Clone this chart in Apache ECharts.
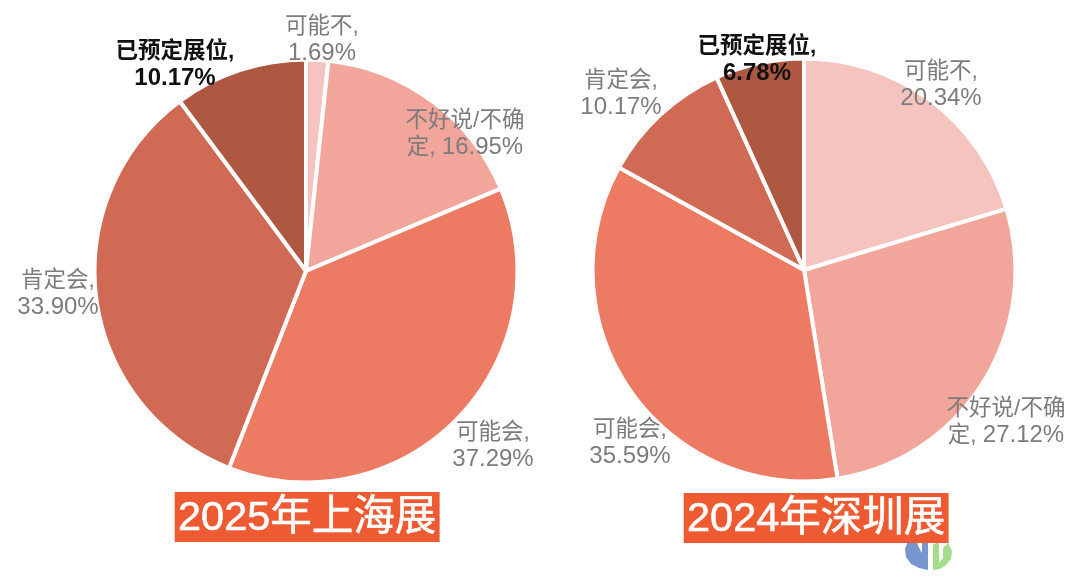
<!DOCTYPE html>
<html>
<head>
<meta charset="UTF-8">
<title>展会参展意向</title>
<script src="https://cdn.jsdelivr.net/npm/echarts@6/dist/echarts.min.js"></script>
<style>
html,body{margin:0;background:#fff;}
#chart{width:1080px;height:577px;}
</style>
</head>
<body>
<div id="chart"></div>
<script>

const colors = {
 "可能不":"#f5c4bf",
 "不好说/不确定":"#f2a59a",
 "可能会":"#ed7a62",
 "肯定会":"#d06a54",
 "已预定展位":"#ae5842"
}

// x,y = label centre in the picture, {n|} = the wider figures
const shows = [
 {
  title:"2025年上海展",
  center:[306,271],
  titleLeft:175,
  titleTop:492,
  rows:[
   {name:"可能不",value:1.69,text:"可能不,\n{n|1.69%}",x:322,y:40},
   {name:"不好说/不确定",value:16.95,text:"不好说/不确\n定, {n|16.95%}",x:465,y:134},
   {name:"可能会",value:37.29,text:"可能会,\n{n|37.29%}",x:493,y:446},
   {name:"肯定会",value:33.90,text:"肯定会,\n{n|33.90%}",x:58,y:294},
   {name:"已预定展位",value:10.17,text:"已预定展位,\n{n|10.17%}",x:175,y:65,bold:true}
  ]
 },
 {
  title:"2024年深圳展",
  center:[804,270],
  titleLeft:684,
  titleTop:493,
  rows:[
   {name:"可能不",value:20.34,text:"可能不,\n{n|20.34%}",x:941,y:85},
   {name:"不好说/不确定",value:27.12,text:"不好说/不确\n定, {n|27.12%}",x:1006,y:422},
   {name:"可能会",value:35.59,text:"可能会,\n{n|35.59%}",x:630,y:443},
   {name:"肯定会",value:10.17,text:"肯定会,\n{n|10.17%}",x:621,y:94},
   {name:"已预定展位",value:6.78,text:"已预定展位,\n{n|6.78%}",x:757,y:60,bold:true}
  ]
 }
]

const chart = echarts.init(document.getElementById("chart"),null,{renderer:"canvas"})

const font = '"Liberation Sans","Noto Sans CJK SC",sans-serif'

chart.setOption({
 animation:false,
 backgroundColor:"#fff",
 title:shows.map(s=>({
  z:1,
  text:s.title,
  left:s.titleLeft,
  top:s.titleTop,
  padding:[3,3,0,3],
  backgroundColor:"#ee5a32",
  textStyle:{
   color:"#fff",
   fontFamily:font,
   fontSize:41.5,
   fontWeight:"normal",
   lineHeight:47,
   textBorderColor:"#fff",
   textBorderWidth:0.6
  }
 })),
 series:shows.map(s=>({
  type:"pie",
  center:s.center,
  radius:[0,211.5],
  startAngle:90,
  clockwise:true,
  silent:true,
  labelLine:{show:false},
  itemStyle:{borderColor:"#fff",borderWidth:4},
  labelLayout:p=>{
   const r = s.rows[p.dataIndex]
   return {x:r.x,y:r.y,align:"center",verticalAlign:"middle",hideOverlap:false}
  },
  data:s.rows.map(r=>{
   const color = r.bold?"#111":"#7c7c7c"
   const fontWeight = r.bold?"bold":"normal"
   return {
    name:r.name,
    value:r.value,
    itemStyle:{color:colors[r.name]},
    label:{
     show:true,
     position:"inside",
     overflow:"none",
     formatter:r.text,
     fontFamily:font,
     fontSize:22.5,
     lineHeight:27,
     fontWeight,
     color,
     align:"center",
     rich:{
      n:{fontFamily:font,fontSize:24,lineHeight:27,fontWeight,color}
     }
    }
   }
  })
 })),
 // watermark in the corner of the second title
 graphic:{
  zlevel:1,
  z:100,
  elements:[
   {type:"polygon",shape:{points:[[914,534],[908,541],[905,549],[906,557],[911,564],[919,568],[928,570],[928,537],[922,533],[922,553],[918,546],[916,534]]},style:{fill:"rgba(98,130,200,0.85)"}},
   {type:"polygon",shape:{points:[[933,570],[933,545],[939,541],[939,563],[943,558],[943,548],[948,543],[952,551],[951,559],[946,565],[940,569]]},style:{fill:"rgba(150,215,120,0.85)"}}
  ]
 }
})

</script>
</body>
</html>
